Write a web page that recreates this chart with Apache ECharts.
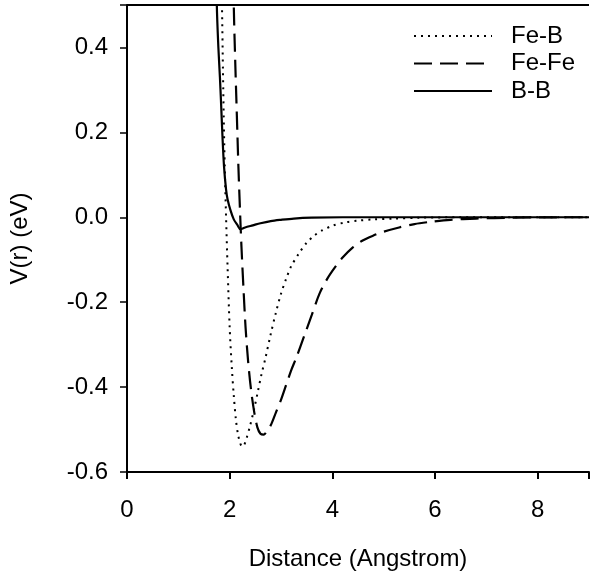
<!DOCTYPE html>
<html>
<head>
<meta charset="utf-8">
<script src="https://cdn.jsdelivr.net/npm/echarts@6/dist/echarts.min.js"></script>
<style>html,body{margin:0;padding:0;background:#fff;}#c{width:592px;height:576px;}</style>
</head>
<body>
<div id="c"></div>
<script>
const seriesNames = ['Fe-B', 'Fe-Fe', 'B-B'];
const xTicks = [0, 2, 4, 6, 8];
const yTicks = [-0.6, -0.4, -0.2, 0.0, 0.2, 0.4];

const feB = [[1.80,0.85],[1.83,0.62],[1.85,0.50],[1.87,0.34],[1.89,0.20],[1.91,0.09],[1.93,0.00],[1.96,-0.12],[2.00,-0.26],[2.04,-0.35],[2.08,-0.42],[2.12,-0.475],[2.16,-0.51],[2.20,-0.53],[2.24,-0.54],[2.28,-0.537],[2.33,-0.52],[2.40,-0.49],[2.48,-0.45],[2.55,-0.41],[2.62,-0.37],[2.70,-0.33],[2.80,-0.275],[2.90,-0.225],[3.00,-0.18],[3.10,-0.145],[3.20,-0.115],[3.35,-0.085],[3.50,-0.06],[3.65,-0.043],[3.80,-0.031],[4.00,-0.02],[4.25,-0.012],[4.50,-0.008],[4.80,-0.005],[5.20,-0.003],[5.70,-0.001],[6.50,0],[9,0]];
const feFe = [[2.05,0.80],[2.08,0.50],[2.11,0.36],[2.13,0.28],[2.15,0.20],[2.17,0.12],[2.20,0.02],[2.23,-0.07],[2.27,-0.17],[2.31,-0.26],[2.36,-0.34],[2.42,-0.41],[2.48,-0.46],[2.54,-0.495],[2.60,-0.51],[2.66,-0.512],[2.72,-0.505],[2.80,-0.49],[2.90,-0.46],[3.00,-0.43],[3.10,-0.395],[3.20,-0.36],[3.30,-0.33],[3.45,-0.28],[3.60,-0.23],[3.75,-0.18],[3.90,-0.145],[4.05,-0.118],[4.20,-0.095],[4.40,-0.071],[4.60,-0.054],[4.80,-0.043],[5.00,-0.034],[5.30,-0.024],[5.60,-0.016],[5.90,-0.011],[6.30,-0.006],[6.80,-0.003],[7.50,-0.001],[8.50,0],[9,0]];
const bB = [[1.72,0.85],[1.75,0.50],[1.78,0.40],[1.81,0.33],[1.83,0.276],[1.86,0.19],[1.89,0.12],[1.93,0.065],[1.96,0.042],[2.02,0.015],[2.08,-0.005],[2.15,-0.018],[2.21,-0.028],[2.30,-0.024],[2.45,-0.019],[2.60,-0.014],[2.80,-0.009],[3.00,-0.006],[3.25,-0.003],[3.60,-0.001],[4.2,0],[9,0]];

const font = 'Liberation Sans, Arial, sans-serif';
const chart = echarts.init(document.getElementById('c'), null, {renderer: 'canvas'});
const mk = (name, data, type, w) => ({
  name, type: 'line', data, symbol: 'none', smooth: 0.3, clip: true,
  lineStyle: {color: '#000', width: w, type: type, cap: 'butt'}, itemStyle: {color: '#000'}
});
chart.setOption({
  animation: false,
  backgroundColor: '#fff',
  grid: {left: 118, top: 5, width: 477, height: 470, containLabel: false},
  legend: {
    orient: 'vertical', left: 408, top: 19, itemWidth: 78, itemHeight: 14, itemGap: 3.5,
    data: seriesNames,
    itemStyle: {opacity: 0},
    textStyle: {fontFamily: font, fontSize: 24, color: '#000', padding: [0, 0, 0, 14]}
  },
  xAxis: {
    type: 'value', min: 0, max: 9, interval: 2,
    name: 'Distance (Angstrom)', nameLocation: 'middle', nameGap: 75,
    nameTextStyle: {fontFamily: font, fontSize: 24, color: '#000'},
    axisLine: {onZero: false, lineStyle: {color: '#000', width: 2}},
    axisTick: {inside: false, length: 7, lineStyle: {color: '#000', width: 2}},
    axisLabel: {fontFamily: font, fontSize: 24, color: '#000', margin: 26,
      formatter: v => xTicks.includes(v) ? String(v) : ''},
    splitLine: {show: false}
  },
  yAxis: {
    type: 'value', min: -0.6, max: 0.5, interval: 0.2,
    name: 'V(r) (eV)', nameLocation: 'middle', nameGap: 95,
    nameTextStyle: {fontFamily: font, fontSize: 24, color: '#000'},
    axisLine: {onZero: false, lineStyle: {color: '#000', width: 2}},
    axisTick: {inside: false, length: 7, lineStyle: {color: '#000', width: 1.5}},
    axisLabel: {fontFamily: font, fontSize: 24, color: '#000', margin: 19,
      formatter: v => { const t = yTicks.find(y => Math.abs(y - v) < 1e-6); return t === undefined ? '' : t.toFixed(1); }},
    splitLine: {show: false}
  },
  series: [
    mk('Fe-B', feB, [2, 5], 2),
    mk('Fe-Fe', feFe, [18, 8], 2.2),
    mk('B-B', bB, 'solid', 2.2),
    {type: 'line', data: [[0, 0.5], [9, 0.5]], symbol: 'none', silent: true, legendHoverLink: false,
     lineStyle: {color: '#000', width: 2}, tooltip: {show: false}}
  ]
});
</script>
</body>
</html>
